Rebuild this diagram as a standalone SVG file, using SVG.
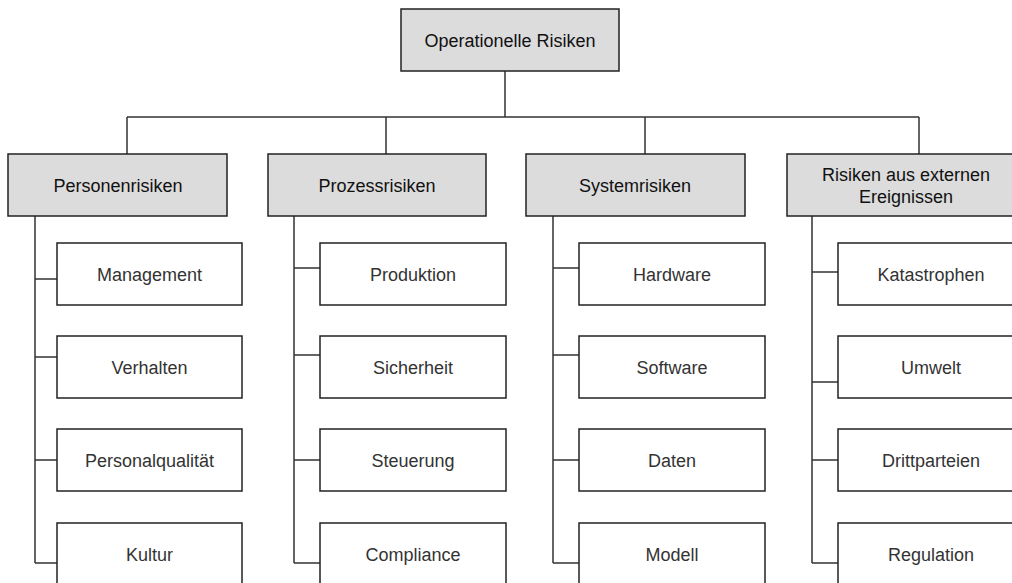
<svg xmlns="http://www.w3.org/2000/svg" width="1012" height="583" viewBox="0 0 1012 583">
<style>
.hdr{fill:#dcdcdc;stroke:#222;stroke-width:1.5}
.leaf{fill:#fff;stroke:#222;stroke-width:1.5}
.ht{font-family:"Liberation Sans",Arial,sans-serif;font-size:18px;fill:#111;text-anchor:middle}
.lt{font-family:"Liberation Sans",Arial,sans-serif;font-size:18px;fill:#333;text-anchor:middle}
.con{fill:none;stroke:#333;stroke-width:1.5}
</style>
<rect width="1012" height="583" fill="#fff"/>
<g id="connectors" class="con">
<path d="M505,71V117M127,117H919M127,117V154M386,117V154M645,117V154M919,117V154"/>
<path d="M35,216V563M35,279H57M35,357H57M35,460H57M35,563H57"/>
<path d="M294,216V563M294,268H320M294,355H320M294,460H320M294,563H320"/>
<path d="M553,216V563M553,268H579M553,355H579M553,460H579M553,563H579"/>
<path d="M812,216V563M812,272H838M812,382H838M812,460H838M812,563H838"/>
</g>
<g id="root"><rect class="hdr" x="401" y="9" width="218" height="62"/><text class="ht" x="510" y="46.5">Operationelle Risiken</text></g>
<g id="personenrisiken"><rect class="hdr" x="8" y="154" width="219" height="62"/><text class="ht" x="118" y="191.5">Personenrisiken</text></g>
<g id="prozessrisiken"><rect class="hdr" x="268" y="154" width="218" height="62"/><text class="ht" x="377" y="191.5">Prozessrisiken</text></g>
<g id="systemrisiken"><rect class="hdr" x="526" y="154" width="219" height="62"/><text class="ht" x="635" y="191.5">Systemrisiken</text></g>
<g id="externe"><rect class="hdr" x="787" y="154" width="238" height="62"/><text class="ht" x="906" y="181">Risiken aus externen</text><text class="ht" x="906" y="203">Ereignissen</text></g>
<g id="management"><rect class="leaf" x="57" y="243" width="185" height="62"/><text class="lt" x="149.5" y="280.5">Management</text></g>
<g id="verhalten"><rect class="leaf" x="57" y="336" width="185" height="62"/><text class="lt" x="149.5" y="373.5">Verhalten</text></g>
<g id="personalqualitaet"><rect class="leaf" x="57" y="429" width="185" height="62"/><text class="lt" x="149.5" y="466.5">Personalqualität</text></g>
<g id="kultur"><rect class="leaf" x="57" y="523" width="185" height="62"/><text class="lt" x="149.5" y="560.5">Kultur</text></g>
<g id="produktion"><rect class="leaf" x="320" y="243" width="186" height="62"/><text class="lt" x="413" y="280.5">Produktion</text></g>
<g id="sicherheit"><rect class="leaf" x="320" y="336" width="186" height="62"/><text class="lt" x="413" y="373.5">Sicherheit</text></g>
<g id="steuerung"><rect class="leaf" x="320" y="429" width="186" height="62"/><text class="lt" x="413" y="466.5">Steuerung</text></g>
<g id="compliance"><rect class="leaf" x="320" y="523" width="186" height="62"/><text class="lt" x="413" y="560.5">Compliance</text></g>
<g id="hardware"><rect class="leaf" x="579" y="243" width="186" height="62"/><text class="lt" x="672" y="280.5">Hardware</text></g>
<g id="software"><rect class="leaf" x="579" y="336" width="186" height="62"/><text class="lt" x="672" y="373.5">Software</text></g>
<g id="daten"><rect class="leaf" x="579" y="429" width="186" height="62"/><text class="lt" x="672" y="466.5">Daten</text></g>
<g id="modell"><rect class="leaf" x="579" y="523" width="186" height="62"/><text class="lt" x="672" y="560.5">Modell</text></g>
<g id="katastrophen"><rect class="leaf" x="838" y="243" width="186" height="62"/><text class="lt" x="931" y="280.5">Katastrophen</text></g>
<g id="umwelt"><rect class="leaf" x="838" y="336" width="186" height="62"/><text class="lt" x="931" y="373.5">Umwelt</text></g>
<g id="drittparteien"><rect class="leaf" x="838" y="429" width="186" height="62"/><text class="lt" x="931" y="466.5">Drittparteien</text></g>
<g id="regulation"><rect class="leaf" x="838" y="523" width="186" height="62"/><text class="lt" x="931" y="560.5">Regulation</text></g>
</svg>
